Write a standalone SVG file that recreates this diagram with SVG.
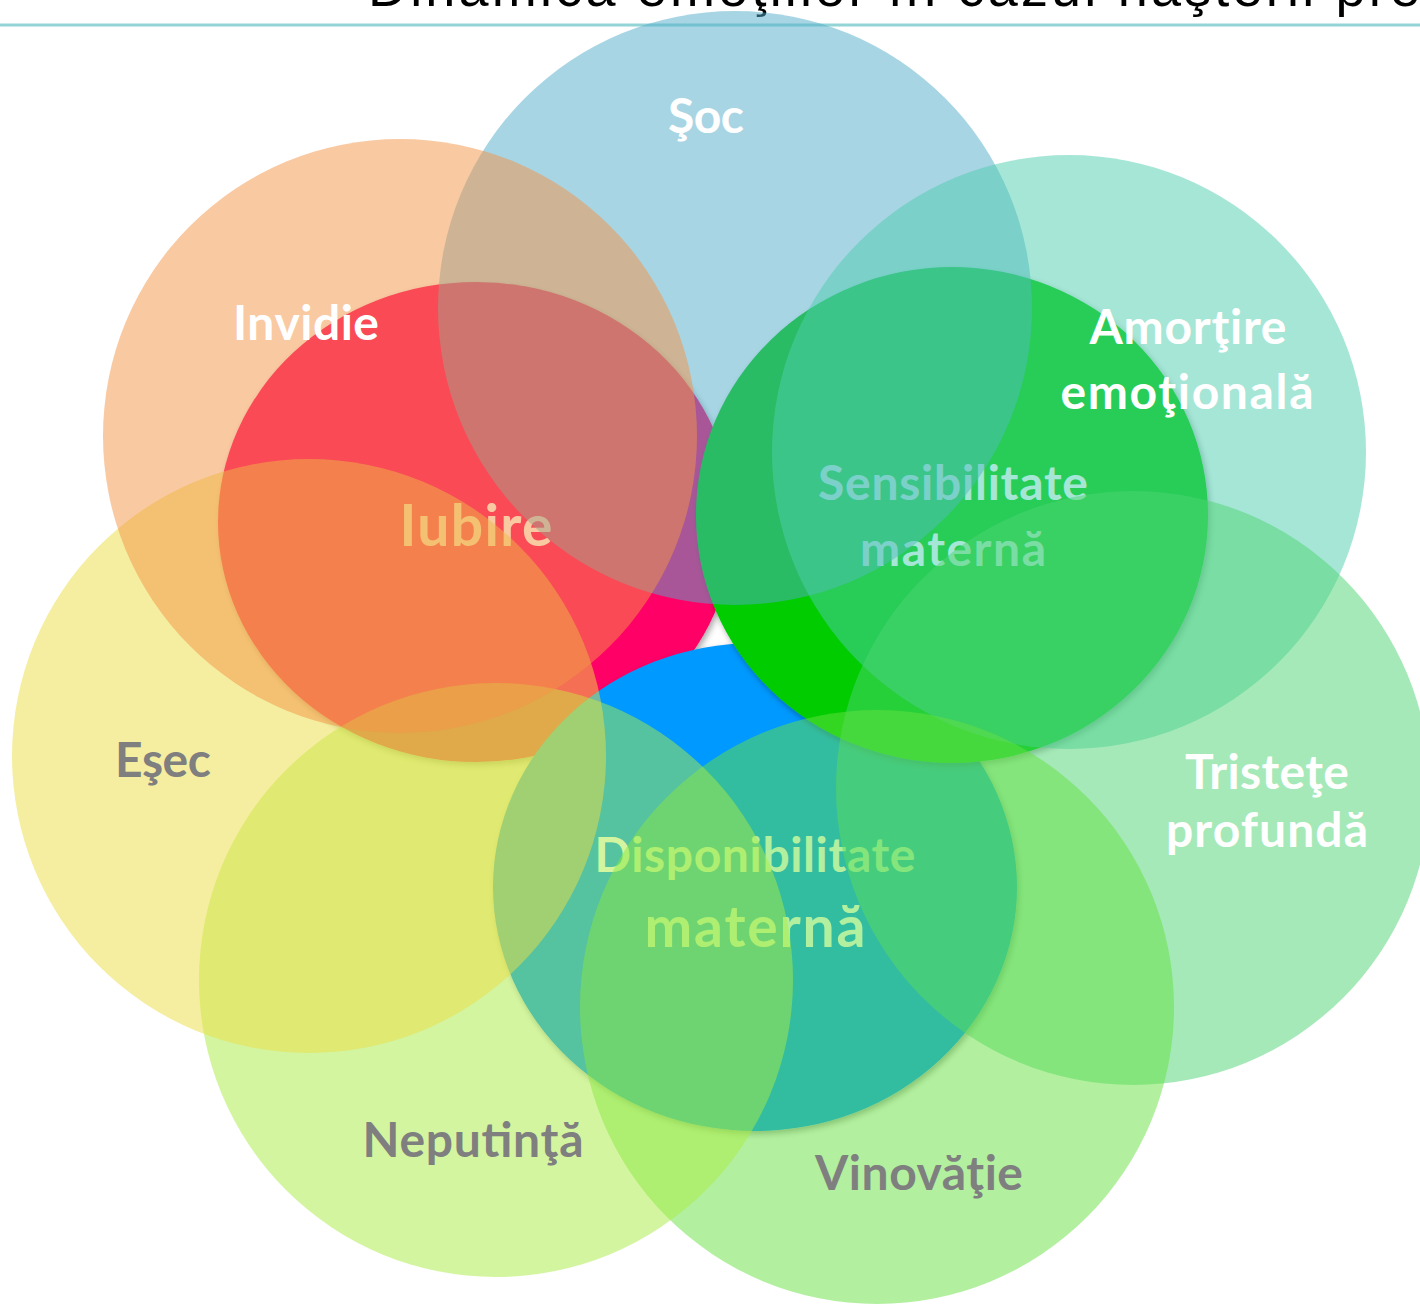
<svg xmlns="http://www.w3.org/2000/svg" width="1420" height="1307" viewBox="0 0 1420 1307">
<style>
.lbl{font-family:Lato,"Open Sans","Liberation Sans",sans-serif;font-weight:bold;text-anchor:middle}
.w{fill:#ffffff}
.g{fill:#7f7f7f}
.big{font-size:57px}
.mid{font-size:48px}
.outer{fill-opacity:0.5}
.core{filter:url(#sh)}
</style>
<defs>
<filter id="sh" x="-10%" y="-10%" width="125%" height="125%">
<feDropShadow dx="2" dy="3" stdDeviation="3" flood-color="#000" flood-opacity="0.35"/>
</filter>
</defs>
<rect width="1420" height="1307" fill="#ffffff"/>
<text x="368" y="6" font-family="Liberation Sans, sans-serif" font-size="54" fill="#000" textLength="1052">Dinamica emoţiilor în cazul naşterii pre</text>
<line x1="0" y1="25" x2="1420" y2="25" stroke="#93d4d6" stroke-width="3"/>
<g id="connectors"></g>
<g id="node-iubire">
<ellipse class="core" cx="476" cy="522" rx="258" ry="240" fill="#ff0066"/>
<text class="lbl w big" x="476" y="546" textLength="153">Iubire</text>
</g>
<g id="node-disponibilitate">
<ellipse class="core" cx="755" cy="887" rx="262" ry="244" fill="#0099ff"/>
<text class="lbl w mid" x="755" y="872" textLength="321">Disponibilitate</text>
<text class="lbl w big" x="755" y="947" textLength="221">maternă</text>
</g>
<g id="node-sensibilitate">
<ellipse class="core" cx="952" cy="515" rx="256" ry="248" fill="#00cc00"/>
<text class="lbl w mid" x="953" y="500" textLength="270">Sensibilitate</text>
<text class="lbl w mid" x="953" y="566" textLength="186">maternă</text>
</g>
<g id="node-soc"><circle class="outer" cx="735" cy="308" r="297" fill="#51abc9"/></g>
<g id="node-amortire"><circle class="outer" cx="1069" cy="452" r="297" fill="#4dcdad"/></g>
<g id="node-tristete"><circle class="outer" cx="1133" cy="788" r="297" fill="#4bd371"/></g>
<g id="node-vinovatie"><circle class="outer" cx="877" cy="1007" r="297" fill="#65e141"/></g>
<g id="node-neputinta"><circle class="outer" cx="496" cy="980" r="297" fill="#a9eb41"/></g>
<g id="node-esec"><circle class="outer" cx="309" cy="756" r="297" fill="#ebdd41"/></g>
<g id="node-invidie"><circle class="outer" cx="400" cy="436" r="297" fill="#f39345"/></g>
<g id="labels">
<text class="lbl w mid" x="706" y="133" textLength="76">Şoc</text>
<text class="lbl w mid" x="306" y="340" textLength="146">Invidie</text>
<text class="lbl w mid" x="1188" y="344" textLength="197">Amorţire</text>
<text class="lbl w mid" x="1187" y="409" textLength="253">emoţională</text>
<text class="lbl w mid" x="1267" y="789" textLength="164">Tristeţe</text>
<text class="lbl w mid" x="1267" y="847" textLength="202">profundă</text>
<text class="lbl g mid" x="163" y="777" textLength="96">Eşec</text>
<text class="lbl g mid" x="473" y="1157" textLength="221">Neputinţă</text>
<text class="lbl g mid" x="919" y="1190" textLength="208">Vinovăţie</text>
</g>
</svg>
